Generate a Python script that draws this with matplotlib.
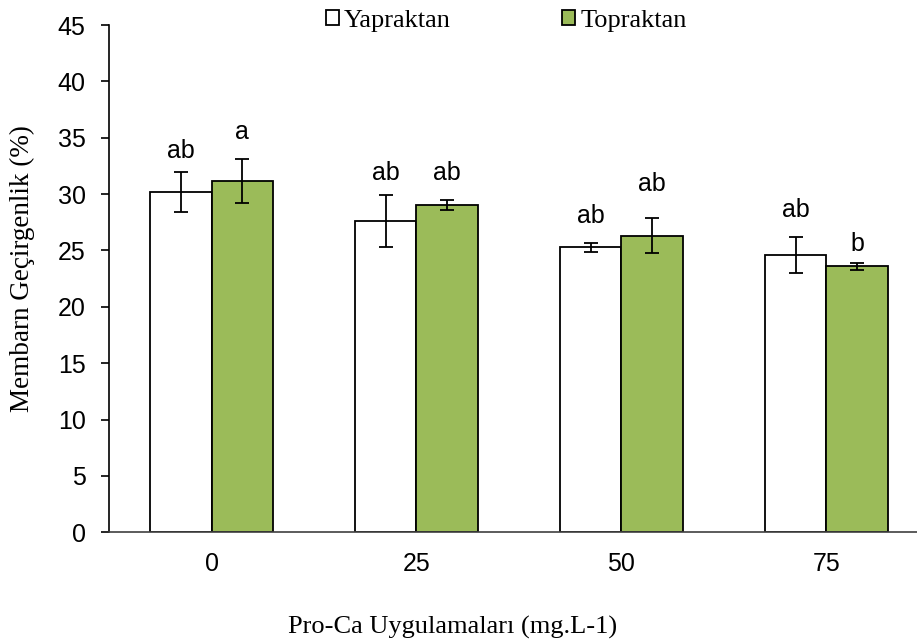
import matplotlib.pyplot as plt
import numpy as np

doses = ['0', '25', '50', '75']
yaprak = [30.2, 27.6, 25.3, 24.6]
yaprak_err = [1.75, 2.3, 0.4, 1.6]
toprak = [31.15, 29.05, 26.3, 23.6]
toprak_err = [1.95, 0.45, 1.55, 0.3]
yaprak_letters = ['ab', 'ab', 'ab', 'ab']
toprak_letters = ['a', 'ab', 'ab', 'b']
# gap (px) between error bar top and letter baseline, as in the original
yaprak_gap = [14, 15, 20, 20]
toprak_gap = [20, 20, 27, 12]

fig = plt.figure(figsize=(9.17, 6.42), dpi=100)
ax = fig.add_axes([0.1189, 0.171, 0.894, 0.790])

x = np.arange(len(doses))
w = 0.30
green = '#9BBB59'
ekw = dict(ecolor='black', elinewidth=1.3, capsize=5, capthick=1.3)

ax.bar(x - w / 2, yaprak, w, yerr=yaprak_err, color='white', edgecolor='black',
       linewidth=1.3, error_kw=ekw, label='Yapraktan', zorder=2)
ax.bar(x + w / 2, toprak, w, yerr=toprak_err, color=green, edgecolor='black',
       linewidth=1.3, error_kw=ekw, label='Topraktan', zorder=2)

for i in range(len(doses)):
    ax.annotate(yaprak_letters[i], (x[i] - w / 2, yaprak[i] + yaprak_err[i]),
                xytext=(0, yaprak_gap[i] * 0.72), textcoords='offset points',
                ha='center', va='baseline', fontsize=18, family='Liberation Sans')
    ax.annotate(toprak_letters[i], (x[i] + w / 2, toprak[i] + toprak_err[i]),
                xytext=(0, toprak_gap[i] * 0.72), textcoords='offset points',
                ha='center', va='baseline', fontsize=18, family='Liberation Sans')

ax.set_ylim(0, 45)
ax.set_yticks(range(0, 46, 5))
ax.set_xlim(-0.5, 3.5)
ax.set_xticks(x)
ax.set_xticklabels(doses)
for lab in ax.get_xticklabels() + ax.get_yticklabels():
    lab.set_family('Liberation Sans')
    lab.set_fontsize(18)
ax.tick_params(axis='x', length=0, pad=14)
ax.tick_params(axis='y', direction='out', length=5.8, width=1.2, pad=11)
ax.spines['top'].set_visible(False)
ax.spines['right'].set_visible(False)
ax.spines['left'].set_linewidth(1.2)
ax.spines['bottom'].set_linewidth(1.2)
ax.spines['bottom'].set_color('#404040')

fig.text(0.024, 0.581, 'Membarn Geçirgenlik (%)', rotation=90, ha='center', va='center',
         family='Liberation Serif', fontsize=19.5)
fig.text(0.493, 0.022, 'Pro-Ca Uygulamaları (mg.L-1)', ha='center', va='center',
         family='Liberation Serif', fontsize=19)

fig.legend(loc='center', bbox_to_anchor=(0.552, 0.968), ncol=2, frameon=False,
           prop={'family': 'Liberation Serif', 'size': 19}, handlelength=0.5,
           handleheight=0.5, handletextpad=0.2, columnspacing=4.2, borderaxespad=0)

fig.savefig('out.png', dpi=100)
